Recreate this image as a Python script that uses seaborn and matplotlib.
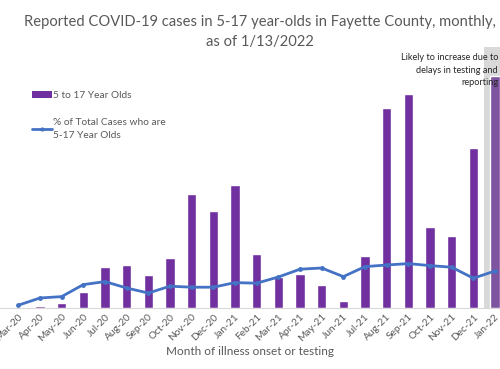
import matplotlib
matplotlib.use("Agg")
import matplotlib.pyplot as plt
import seaborn as sns
import numpy as np
from matplotlib.patches import Patch
from matplotlib.lines import Line2D

months = ["Mar-20", "Apr-20", "May-20", "Jun-20", "Jul-20", "Aug-20", "Sep-20", "Oct-20",
          "Nov-20", "Dec-20", "Jan-21", "Feb-21", "Mar-21", "Apr-21", "May-21", "Jun-21",
          "Jul-21", "Aug-21", "Sep-21", "Oct-21", "Nov-21", "Dec-21", "Jan-22"]
cases_5_17 = [5, 8, 23, 78, 204, 215, 163, 248, 568, 483, 615, 270, 157, 168, 115, 35,
              260, 1000, 1070, 406, 360, 800, 1160]
pct_5_17 = [1.4, 5.0, 5.7, 11.7, 13.2, 10.0, 7.5, 10.9, 10.4, 10.4, 12.7, 12.4, 15.5,
            19.4, 20.0, 15.7, 20.7, 21.5, 22.2, 21.2, 20.4, 14.9, 18.5]

TXT = "#595959"
PURPLE = "#7030A0"
sns.set_theme(style="white")
plt.rcParams["font.family"] = ["Lato", "DejaVu Sans"]

fig = plt.figure(figsize=(5, 3.69), dpi=100)
ax = fig.add_axes([0.0, 0.1653, 1.0, 0.7073])

ax.axvspan(21.5, 22.6, color="#D9D9D9", zorder=0, lw=0)
sns.barplot(x=months, y=cases_5_17, color=PURPLE, width=0.43, saturation=1, ax=ax, zorder=2)
bars = [p for p in ax.patches if p.get_width() < 1]
bars[-1].set_facecolor("#7E539F")

ax.set_xlim(-0.845, 22.23)
ax.set_ylim(0, 1305)
ax.set_yticks([])
ax.set_ylabel("")
for s in ["top", "right", "left"]:
    ax.spines[s].set_visible(False)
ax.spines["bottom"].set_color("#D9D9D9")
ax.spines["bottom"].set_linewidth(0.8)
ax.tick_params(axis="x", length=0, pad=3, labelsize=7.3, labelcolor=TXT)
plt.setp(ax.get_xticklabels(), rotation=45, ha="right", rotation_mode="anchor")
ax.set_xlabel("Month of illness onset or testing", fontsize=8.5, color=TXT, labelpad=2)

ax2 = ax.twinx()
sns.lineplot(x=np.arange(len(months)), y=pct_5_17, ax=ax2, color="#4472C4", lw=2,
             marker="o", markersize=3.5, markeredgewidth=0, sort=False, zorder=3)
ax2.set_ylim(0, 130.5)
ax2.set_yticks([])
ax2.set_ylabel("")
for s in ax2.spines.values():
    s.set_visible(False)
ax2.set_xlim(-0.845, 22.23)

fig.text(0.52, 0.913, "Reported COVID-19 cases in 5-17 year-olds in Fayette County, monthly,\nas of 1/13/2022",
         ha="center", va="center", fontsize=10.6, color=TXT, linespacing=1.5)

fig.text(0.996, 0.81, "Likely to increase due to\ndelays in testing and\nreporting",
         ha="right", va="center", fontsize=6.6, color="#262626", linespacing=1.5)

handles = [Patch(facecolor=PURPLE, edgecolor="none"),
           Line2D([0], [0], color="#4472C4", lw=2, marker="o", markersize=3, markeredgewidth=0)]
labels = ["5 to 17 Year Olds", "% of Total Cases who are\n5-17 Year Olds"]
leg = fig.legend(handles, labels, loc="upper left", bbox_to_anchor=(0.055, 0.765), frameon=False,
                 fontsize=7.3, labelcolor=TXT, handlelength=2.0, handletextpad=0.15,
                 labelspacing=1.8, borderaxespad=0)
for t in leg.get_texts():
    t.set_linespacing(1.55)

fig.savefig("out.png", dpi=100)
